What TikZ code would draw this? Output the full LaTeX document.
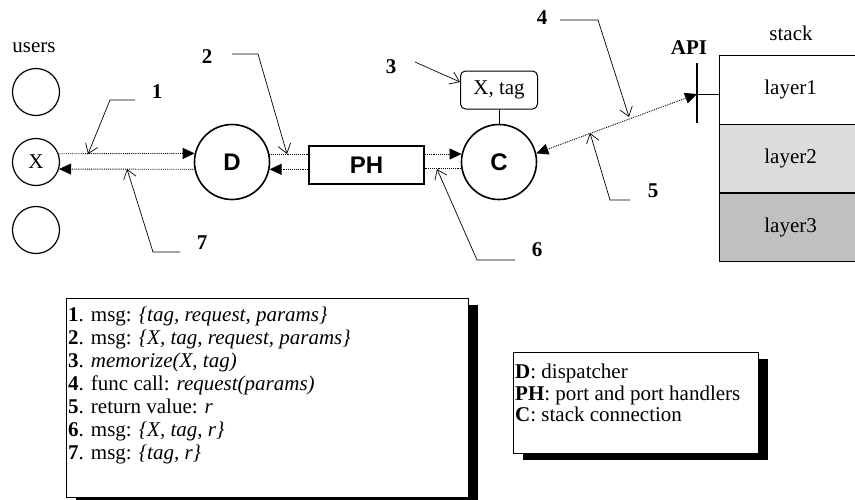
\documentclass[tikz,border=0pt]{standalone}
\usepackage{fontspec}
\setmainfont{Liberation Serif}
\newfontfamily\helv{Liberation Sans}
\usepackage{xcolor}
\usetikzlibrary{arrows.meta,shadows,calc,positioning}
\definecolor{layertwo}{HTML}{DCDCDC}
\definecolor{layerthree}{HTML}{C0C0C0}
\newcommand\txt{\fontsize{21}{23}\selectfont}
\tikzset{
  usr/.style={circle,draw,line width=1.2pt,minimum size=47pt,inner sep=0pt},
  proc/.style={circle,draw,line width=1.6pt,minimum size=75pt,inner sep=0pt,font=\helv\bfseries\fontsize{24}{24}\selectfont},
  msg/.style={densely dotted,line width=0.9pt},
  tip/.style={-{Triangle[length=12pt,width=11pt]}},
  callout/.style={-{Straight Barb[length=9pt,width=13pt]},line width=0.7pt},
  num/.style={font=\txt\bfseries},
  layer/.style={draw,line width=1.2pt,minimum width=142pt,minimum height=68.7pt,anchor=north west,inner sep=0pt},
  legend/.style={draw,line width=0.9pt,fill=white,anchor=north west,inner sep=0pt,
    drop shadow={shadow xshift=10pt,shadow yshift=-7pt,fill=black,opacity=1}}
}
\begin{document}
\begin{tikzpicture}[x=1pt,y=-1pt,font=\txt]
\useasboundingbox[fill=white] (0,0) rectangle (855,499);

\node (users) at (34,48) {users};
\node[usr] (u1) at (36,92) {};
\node[usr] (ux) at (36,162) {X};
\node[usr] (u3) at (36,230) {};

\node[proc] (D) at (232,162) {D};
\node[draw,line width=1.8pt,minimum width=115pt,minimum height=38pt,inner sep=0pt,
  font=\helv\bfseries\fontsize{24}{24}\selectfont] (PH) at (366.5,165) {PH};
\node[proc] (C) at (499,162) {C};
\node[draw,line width=1pt,rounded corners=5pt,minimum width=77pt,minimum height=38pt,inner sep=0pt] (mem) at (499,90) {X, tag};
\draw[line width=0.8pt] (mem) -- (C);

\draw[msg,tip] (ux.20) -- (D.167.5);
\draw[msg,tip] (D.191) -- (ux.343);
\draw[msg] (D.12.5) -- (D.12.5 -| PH.west);
\draw[msg,tip] (D.349 -| PH.west) -- (D.349);
\draw[msg,tip] (PH.east |- C.168) -- (C.168);
\draw[msg] (C.190.5) -- (C.190.5 -| PH.east);

% API and stack
\coordinate (api) at (697,94);
\draw[msg,{Triangle[length=12pt,width=11pt]}-{Triangle[length=12pt,width=11pt]}] (C.13) -- (api);
\draw[line width=1.8pt] (api) ++(0,-31) -- ++(0,60);
\node[num] (apilbl) at (689,48) {API};
\node (stk) at (791,33) {stack};
\foreach \i/\c in {1/white,2/layertwo,3/layerthree}
  \node[layer,fill=\c] (l\i) at (719,{55+68.7*(\i-1)}) {layer\i};
\draw[line width=0.8pt] (api) -- (api -| l1.west);

% numbered callouts
\node[num] (n1) at (157,92) {1};
\node[num] (n2) at (207,57) {2};
\node[num] (n3) at (391,67) {3};
\node[num] (n4) at (542,18) {4};
\node[num] (n5) at (653,191) {5};
\node[num] (n6) at (537,250) {6};
\node[num] (n7) at (202,243) {7};
\draw[callout] (135,100) coordinate (c1) -- (110,100) -- (88,154);
\draw[callout] (232,54) coordinate (c2) -- (258,54) -- (287,154);
\draw[callout] (415,62) coordinate (c3) -- (460,82);
\draw[callout] (560,20) coordinate (c4) -- (598,20) -- (629,117);
\draw[callout] (630,200) coordinate (c5) -- (610,200) -- (590,133);
\draw[callout] (515,260) coordinate (c6) -- (477,260) -- (437,169);
\draw[callout] (180,252) coordinate (c7) -- (153,252) -- (127,169);

% legends
\node[legend,minimum width=402pt,minimum height=199pt] (key1) at (66,298) {};
\node[anchor=north west,inner sep=0pt,align=left] (steps) at (68,307) {%
  \textbf{1}. msg: \textit{\{tag, request, params\}}\\
  \textbf{2}. msg: \textit{\{X, tag, request, params\}}\\
  \textbf{3}. \textit{memorize(X, tag)}\\
  \textbf{4}. func call: \textit{request(params)}\\
  \textbf{5}. return value: \textit{r}\\
  \textbf{6}. msg: \textit{\{X, tag, r\}}\\
  \textbf{7}. msg: \textit{\{tag, r\}}};
\node[legend,minimum width=245pt,minimum height=101pt] (key2) at (513,352) {};
\node[anchor=north west,inner sep=0pt,align=left,font=\fontsize{21}{21.5}\selectfont] (names) at (515,364) {%
  \textbf{D}: dispatcher\\
  \textbf{PH}: port and port handlers\\
  \textbf{C}: stack connection};
\end{tikzpicture}
\end{document}
